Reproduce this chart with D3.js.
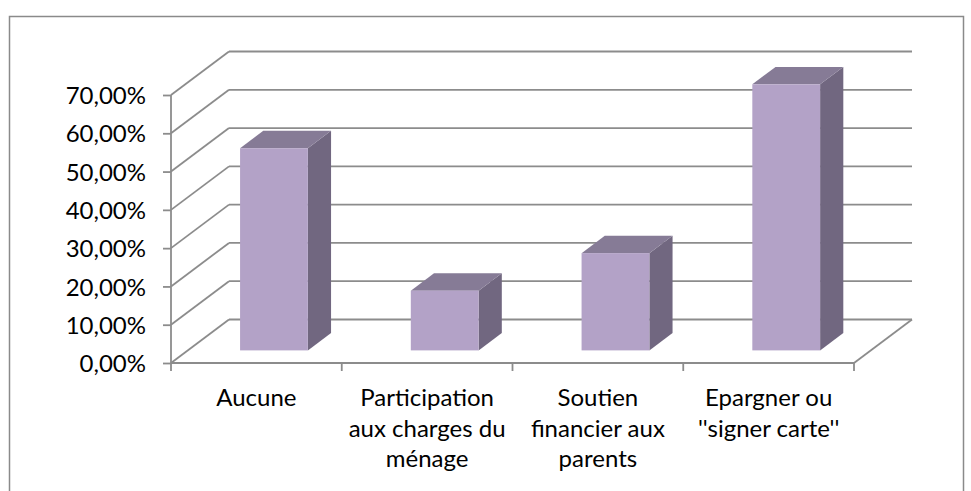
<!DOCTYPE html>
<html>
<head>
<meta charset="utf-8">
<script src="https://cdn.jsdelivr.net/npm/d3@7"></script>
<style>
  html, body { margin: 0; padding: 0; background: #fff; }
  svg { display: block; }
  text { font-family: Lato, "Open Sans", sans-serif; fill: #000; }
</style>
</head>
<body>
<div id="chart"></div>
<script>
// data
var categories = ["Aucune", "Participation aux charges du ménage", "Soutien financier aux parents", "Epargner ou ''signer carte''"];
var categoryLines = [
    ["Aucune"],
    ["Participation", "aux charges du", "ménage"],
    ["Soutien", "financier aux", "parents"],
    ["Epargner ou", "''signer carte''"]
];
var values = [0.528, 0.156, 0.254, 0.695];
var yTicks = [0, 0.1, 0.2, 0.3, 0.4, 0.5, 0.6, 0.7];

var W = 971, H = 491;
var svg = d3.select("#chart").append("svg")
    .attr("width", W)
    .attr("height", H);

// chart frame
svg.append("rect")
    .attr("x", 9.5).attr("y", 16.5)
    .attr("width", 954).attr("height", 490)
    .attr("fill", "none")
    .attr("stroke", "#8a8a8a")
    .attr("stroke-width", 1.5);

var x = d3.scaleBand().domain(categories).range([171, 854]).padding(0);
var y = d3.scaleLinear().domain([0, 0.7]).range([363, 95]);
// depth: 0 = front plane, 1 = back wall
var dX = d3.scaleLinear().domain([0, 1]).range([0, 58]);
var dY = d3.scaleLinear().domain([0, 1]).range([0, -43.5]);

var fr = d3.formatLocale({ decimal: ",", thousands: " ", grouping: [3], currency: ["", "€"] });
var pct = fr.format(".2%");

var grid = "#8c8c8c";
var g = svg.append("g");

// left wall diagonals and back wall lines
g.selectAll(".diag")
    .data(yTicks)
    .enter().append("line")
    .attr("class", "diag")
    .attr("x1", x.range()[0]).attr("y1", function (d) { return y(d); })
    .attr("x2", x.range()[0] + dX(1)).attr("y2", function (d) { return y(d) + dY(1); })
    .attr("stroke", grid).attr("stroke-width", 1.8);

g.selectAll(".back")
    .data(yTicks)
    .enter().append("line")
    .attr("class", "back")
    .attr("x1", x.range()[0] + dX(1)).attr("y1", function (d) { return y(d) + dY(1); })
    .attr("x2", x.range()[1] + dX(1)).attr("y2", function (d) { return y(d) + dY(1); })
    .attr("stroke", grid).attr("stroke-width", 1.8);

// floor right edge
g.append("line")
    .attr("x1", x.range()[1]).attr("y1", y(0))
    .attr("x2", x.range()[1] + dX(1)).attr("y2", y(0) + dY(1))
    .attr("stroke", grid).attr("stroke-width", 1.8);

// y axis
var yAxis = g.append("g")
    .attr("transform", "translate(" + x.range()[0] + ",0)")
    .call(d3.axisLeft(y).tickValues(yTicks).tickSize(8).tickPadding(17).tickFormat(pct));
yAxis.select(".domain").attr("stroke", grid).attr("stroke-width", 1.8).attr("d", "M0," + y(0) + "V" + y(0.7));
yAxis.selectAll(".tick line").attr("stroke", grid).attr("stroke-width", 1.8);
yAxis.selectAll(".tick text")
    .style("font-family", "Lato, 'Open Sans', sans-serif")
    .style("font-size", "24px")
    .attr("fill", "#000")
    .attr("dy", "0.36em");

// x axis: line along front floor edge, ticks at band edges
var edges = categories.map(function (c) { return x(c); }).concat([x.range()[1]]);
var xAxis = g.append("g");
xAxis.append("line")
    .attr("x1", x.range()[0]).attr("y1", y(0))
    .attr("x2", x.range()[1]).attr("y2", y(0))
    .attr("stroke", grid).attr("stroke-width", 1.8);
xAxis.selectAll(".xt")
    .data(edges)
    .enter().append("line")
    .attr("class", "xt")
    .attr("x1", function (d) { return d; }).attr("y1", y(0))
    .attr("x2", function (d) { return d; }).attr("y2", y(0) + 8)
    .attr("stroke", grid).attr("stroke-width", 1.8);

var labels = xAxis.selectAll(".xl")
    .data(categories)
    .enter().append("text")
    .attr("class", "xl")
    .attr("text-anchor", "middle")
    .style("font-size", "24px");
labels.each(function (c, i) {
    var t = d3.select(this);
    categoryLines[i].forEach(function (line, j) {
        t.append("tspan")
            .attr("x", x(c) + x.bandwidth() / 2)
            .attr("y", 406 + j * 30.5)
            .text(line);
    });
});

// 3D bars
var front = 0.29, back = 0.69;
var barL = 0.306, barW = 0.397;
var bars = g.selectAll(".bar")
    .data(values)
    .enter().append("g")
    .attr("class", "bar");

function pt(px, py, d) { return [px + dX(d), py + dY(d)]; }

bars.each(function (v, i) {
    var b = d3.select(this);
    var x0 = x(categories[i]) + x.bandwidth() * barL;
    var x1 = x0 + x.bandwidth() * barW;
    var yt = y(v), yb = y(0);
    var line = d3.line();
    // side face
    b.append("path")
        .attr("d", line([pt(x1, yb, front), pt(x1, yb, back), pt(x1, yt, back), pt(x1, yt, front)]) + "Z")
        .attr("fill", "#716780");
    // top face
    b.append("path")
        .attr("d", line([pt(x0, yt, front), pt(x1, yt, front), pt(x1, yt, back), pt(x0, yt, back)]) + "Z")
        .attr("fill", "#867b96");
    // front face
    var p0 = pt(x0, yt, front);
    b.append("rect")
        .attr("x", p0[0]).attr("y", p0[1])
        .attr("width", x1 - x0)
        .attr("height", yb - yt)
        .attr("fill", "#b3a2c7");
});
</script>
</body>
</html>
